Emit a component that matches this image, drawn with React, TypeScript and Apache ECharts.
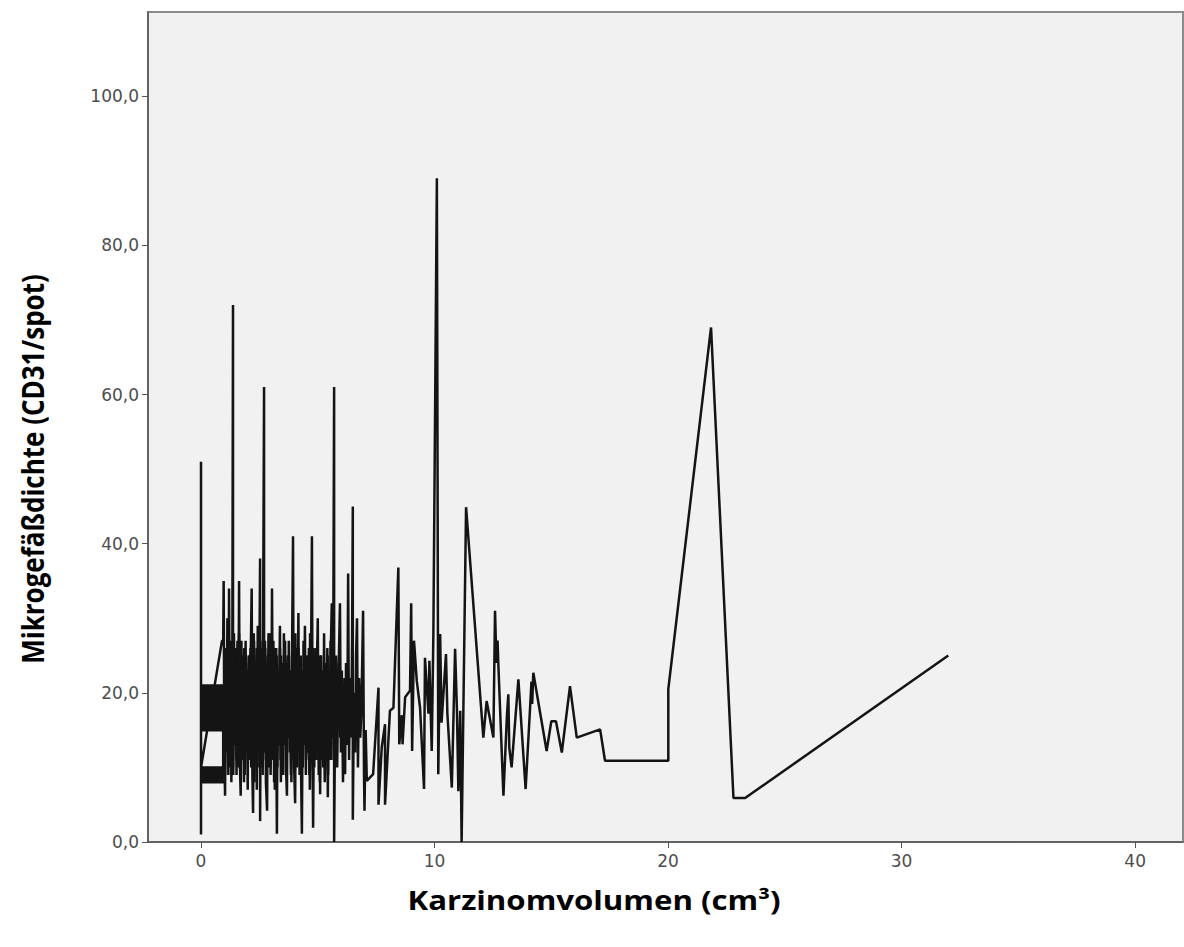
import React, { useEffect, useRef } from "react";
import * as echarts from "echarts";

// Tick values
const xTicks = [0, 10, 20, 30, 40];
const yTicks = [0, 20, 40, 60, 80, 100];

// Dense band of cases with volume near 0 (line drawn in case order)
const bandPoints: [number, number][] = [
  [0, 1], [0, 51],
  [0, 21], [0.95, 21], [0.95, 20.75], [0, 20.75], [0, 20.5], [0.95, 20.5], [0.95, 20.25], [0, 20.25],
  [0, 20], [0.95, 20], [0.95, 19.75], [0, 19.75], [0, 19.5], [0.95, 19.5], [0.95, 19.25], [0, 19.25],
  [0, 19], [0.95, 19], [0.95, 18.75], [0, 18.75], [0, 18.5], [0.95, 18.5], [0.95, 18.25], [0, 18.25],
  [0, 18], [0.95, 18], [0.95, 17.75], [0, 17.75], [0, 17.5], [0.95, 17.5], [0.95, 17.25], [0, 17.25],
  [0, 17], [0.95, 17], [0.95, 16.75], [0, 16.75], [0, 16.5], [0.95, 16.5], [0.95, 16.25], [0, 16.25],
  [0, 16], [0.95, 16], [0.95, 15.75], [0, 15.75], [0, 15.5], [0.95, 15.5], [0.95, 15.25], [0, 15.25],
  [0, 15], [0.95, 15],
  [0.95, 10], [0, 10], [0, 9.75], [0.95, 9.75], [0.95, 9.5], [0, 9.5], [0, 9.25], [0.95, 9.25],
  [0.95, 9], [0, 9], [0, 8.75], [0.95, 8.75], [0.95, 8.5], [0, 8.5], [0, 8.25], [0.95, 8.25],
  [0.95, 8], [0, 8], [0, 10], [0.9, 27],
];

// Dense cluster, volume 1-7 cm³ (first run of cases)
const clusterVolume = [
  0.95, 0.97, 1.0, 1.03, 1.06, 1.1, 1.13, 1.17, 1.2, 1.23, 1.27, 1.3, 1.34, 1.37, 1.37, 1.41, 1.45, 1.49,
  1.52, 1.56, 1.6, 1.63, 1.66, 1.7, 1.73, 1.77, 1.8, 1.84, 1.88, 1.92, 1.96, 2.0, 2.04, 2.08, 2.12, 2.17,
  2.2, 2.23, 2.27, 2.31, 2.35, 2.39, 2.43, 2.47, 2.5, 2.53, 2.53, 2.57, 2.61, 2.65, 2.7, 2.7, 2.74, 2.78,
  2.83, 2.86, 2.9, 2.94, 2.98, 3.02, 3.04, 3.08, 3.12, 3.16, 3.2, 3.25, 3.28, 3.32, 3.38, 3.42, 3.46, 3.5,
  3.55, 3.6, 3.64, 3.68, 3.72, 3.76, 3.8, 3.85, 3.9, 3.94, 3.97, 4.03, 4.07, 4.12, 4.17, 4.2, 4.25, 4.29,
  4.32, 4.36, 4.41, 4.45, 4.49, 4.53, 4.57, 4.62, 4.66, 4.7, 4.75, 4.78, 4.8, 4.85, 4.9, 4.95, 5.0, 5.04,
  5.08, 5.1, 5.14, 5.19, 5.24, 5.3, 5.35, 5.4, 5.43, 5.47, 5.52, 5.56, 5.6, 5.65, 5.7, 5.7, 5.74, 5.78,
  5.83, 5.88, 5.95, 5.99, 6.03, 6.08, 6.12, 6.17, 6.21, 6.26, 6.3, 6.34, 6.38, 6.43, 6.47, 6.5, 6.5, 6.55,
  6.6, 6.64, 6.68, 6.72, 6.77, 6.82, 6.87, 6.94, 6.98, 7.0, 7.05, 7.1,
];
const clusterDensity = [
  27, 35, 12, 6.2, 26, 14, 30, 9, 34, 16, 25, 8, 22, 72, 10, 28, 13, 24,
  9, 27, 15, 35, 11, 6.2, 27, 12, 22, 8, 26, 14, 20, 7, 25, 11, 23, 34,
  9, 3.9, 27, 13, 21, 7, 29, 12, 24, 38, 2.8, 26, 10, 22, 61, 12, 27, 8,
  4.2, 25, 14, 28, 9, 20, 34, 11, 26, 7, 23, 1.1, 21, 13, 29, 8, 24, 12,
  22, 27, 10, 6.2, 25, 14, 21, 9, 26, 41, 12, 5.2, 24, 10, 30.7, 13, 22, 8,
  1.1, 23, 15, 29, 9, 21, 12, 26, 7, 19, 41, 11, 1.9, 24, 14, 20, 30, 9,
  22, 6.4, 25, 13, 21, 8, 18, 24, 6, 20, 11, 26, 32, 14, 61, 0, 16, 25,
  10, 21, 32, 12, 23, 8, 19, 9.1, 24, 13, 36, 11, 22, 14, 27, 45, 3, 20,
  12, 25, 30, 10, 22, 14, 18, 31, 9, 4.2, 15, 8.2,
];

// Dense cluster, second run of cases overlapping the first (volume 5.6 → 1.0)
const clusterBackPoints: [number, number][] = [
  [5.62, 24], [5.58, 11], [5.55, 27], [5.51, 14], [5.48, 22], [5.44, 9], [5.41, 26], [5.37, 16],
  [5.34, 20], [5.3, 12], [5.27, 28], [5.23, 10], [5.2, 23], [5.16, 15], [5.13, 25], [5.09, 8],
  [5.06, 21], [5.02, 13], [4.99, 27], [4.95, 11], [4.92, 19], [4.88, 24], [4.85, 10], [4.81, 26],
  [4.78, 14], [4.74, 22], [4.71, 12], [4.67, 28], [4.64, 9], [4.6, 20], [4.57, 17], [4.53, 25],
  [4.5, 11], [4.46, 23], [4.43, 13], [4.39, 27], [4.36, 10], [4.32, 21], [4.29, 15], [4.25, 24],
  [4.22, 9], [4.18, 26], [4.15, 12], [4.11, 22], [4.08, 16], [4.04, 28], [4.01, 10], [3.97, 20],
  [3.94, 14], [3.9, 25], [3.87, 8], [3.83, 23], [3.8, 12], [3.76, 27], [3.73, 15], [3.69, 21],
  [3.66, 10], [3.62, 24], [3.59, 13], [3.55, 28], [3.52, 9], [3.48, 19], [3.45, 22], [3.41, 11],
  [3.38, 26], [3.34, 14], [3.31, 23], [3.27, 10], [3.24, 25], [3.2, 16], [3.17, 21], [3.13, 8],
  [3.1, 27], [3.06, 12], [3.03, 24], [2.99, 15], [2.96, 20], [2.92, 10], [2.89, 28], [2.85, 13],
  [2.82, 22], [2.78, 11], [2.75, 26], [2.71, 17], [2.68, 24], [2.64, 9], [2.61, 21], [2.57, 14],
  [2.54, 27], [2.5, 10], [2.47, 23], [2.43, 15], [2.4, 25], [2.36, 12], [2.33, 20], [2.29, 8],
  [2.26, 28], [2.22, 13], [2.19, 22], [2.15, 10], [2.12, 26], [2.08, 16], [2.05, 24], [2.01, 11],
  [1.98, 21], [1.94, 14], [1.91, 27], [1.87, 9], [1.84, 23], [1.8, 12], [1.77, 25], [1.73, 15],
  [1.7, 20], [1.66, 10], [1.63, 28], [1.59, 13], [1.56, 22], [1.52, 11], [1.49, 26], [1.45, 16],
  [1.42, 24], [1.38, 9], [1.35, 21], [1.31, 14], [1.28, 27], [1.24, 10], [1.21, 23], [1.17, 15],
  [1.14, 25], [1.1, 12], [1.07, 20], [1.03, 9], [1.0, 26],
];

// Dense cluster, third run of cases (volume 1.0 → 6.2)
const clusterThirdPoints: [number, number][] = [
  [1.01, 18], [1.05, 23], [1.08, 13], [1.12, 19], [1.15, 26], [1.19, 11], [1.22, 17], [1.26, 22],
  [1.29, 14], [1.33, 24], [1.36, 12], [1.4, 19], [1.43, 25], [1.47, 13], [1.5, 18], [1.54, 23],
  [1.57, 10], [1.61, 20], [1.64, 25], [1.68, 14], [1.71, 17], [1.75, 24], [1.78, 11], [1.82, 19],
  [1.85, 26], [1.89, 13], [1.92, 18], [1.96, 23], [1.99, 12], [2.03, 20], [2.06, 25], [2.1, 14],
  [2.13, 18], [2.17, 22], [2.2, 11], [2.24, 19], [2.27, 24], [2.31, 13], [2.34, 17], [2.38, 26],
  [2.41, 12], [2.45, 20], [2.48, 23], [2.52, 14], [2.55, 18], [2.59, 25], [2.62, 11], [2.66, 19],
  [2.69, 22], [2.73, 13], [2.76, 17], [2.8, 24], [2.83, 12], [2.87, 20], [2.9, 25], [2.94, 14],
  [2.97, 18], [3.01, 23], [3.04, 11], [3.08, 19], [3.11, 24], [3.15, 13], [3.18, 17], [3.22, 26],
  [3.25, 12], [3.29, 20], [3.32, 23], [3.36, 14], [3.39, 18], [3.43, 25], [3.46, 11], [3.5, 19],
  [3.53, 22], [3.57, 13], [3.6, 17], [3.64, 24], [3.67, 12], [3.71, 20], [3.74, 25], [3.78, 14],
  [3.81, 18], [3.85, 23], [3.88, 11], [3.92, 19], [3.95, 24], [3.99, 13], [4.02, 17], [4.06, 26],
  [4.09, 12], [4.13, 20], [4.16, 23], [4.2, 14], [4.23, 18], [4.27, 25], [4.3, 11], [4.34, 19],
  [4.37, 22], [4.41, 13], [4.44, 17], [4.48, 24], [4.51, 12], [4.55, 20], [4.58, 25], [4.62, 14],
  [4.65, 18], [4.69, 23], [4.72, 11], [4.76, 19], [4.79, 24], [4.83, 13], [4.86, 17], [4.9, 26],
  [4.93, 12], [4.97, 20], [5.0, 23], [5.04, 14], [5.07, 18], [5.11, 25], [5.14, 11], [5.18, 19],
  [5.21, 22], [5.25, 13], [5.28, 17], [5.32, 24], [5.35, 12], [5.39, 20], [5.42, 25], [5.46, 14],
  [5.49, 18], [5.53, 23], [5.56, 11], [5.6, 19], [5.66, 24], [5.72, 13], [5.78, 21], [5.84, 15],
  [5.9, 24], [5.96, 14], [6.02, 20], [6.08, 12], [6.14, 22],
];

// Sparse tail, volume > 7 cm³
const tailVolume = [
  7.37, 7.6, 7.6, 7.74, 7.88, 7.88, 8.09, 8.24, 8.45, 8.49, 8.6, 8.63, 8.74, 8.95, 9.0, 9.04, 9.12, 9.24,
  9.38, 9.55, 9.59, 9.74, 9.78, 9.88, 9.95, 10.1, 10.16, 10.24, 10.3, 10.49, 10.55, 10.74, 10.88, 10.96,
  11.02, 11.1, 11.16, 11.35, 12.09, 12.23, 12.52, 12.59, 12.65, 12.7, 12.73, 12.95, 13.1, 13.16, 13.2,
  13.3, 13.59, 13.9, 14.1, 14.15, 14.18, 14.23, 14.8, 15.0, 15.2, 15.45, 15.8, 16.09, 17.09, 17.3, 20.01,
  20.01, 21.84, 22.8, 23.3, 32.0,
];
const tailDensity = [
  9.1, 20.7, 5, 12.7, 15.8, 5, 17.6, 18, 36.8, 13.1, 17, 13.1, 19.4, 20.3, 32, 12.2, 27, 21.6,
  18, 7.1, 24.7, 17.2, 24.3, 12.2, 28, 89, 9.1, 27.9, 16, 25.2, 17.2, 7.3, 25.9, 17.6,
  6.8, 17.6, 0, 44.9, 14, 18.9, 14, 31, 24, 27, 24, 6.2, 17, 19.8, 12.7,
  10, 21.8, 7.1, 18.5, 21.5, 18.5, 22.7, 12.2, 16.2, 16.2, 12, 20.9, 14, 15.1, 10.9, 10.9,
  20.5, 69, 5.9, 5.9, 25,
];

const fmt = (v: number) => v.toFixed(1).replace(".", ",");

export default function App() {
  const ref = useRef<HTMLDivElement>(null);
  useEffect(() => {
    if (!ref.current) return;
    const chart = echarts.init(ref.current, null, { renderer: "svg" });
    const mainData: [number, number][] = [
      ...bandPoints,
      ...clusterVolume.map((v, i) => [v, clusterDensity[i]] as [number, number]),
      ...tailVolume.map((v, i) => [v, tailDensity[i]] as [number, number]),
    ];
    const labelFont = {
      color: "#4d4d4d",
      fontFamily: "DejaVu Sans, sans-serif",
      fontSize: 17,
    };
    const lineStyle = { color: "#141414", width: 2.5 };
    const lineSeries = (data: [number, number][]) => ({
      type: "line",
      data,
      showSymbol: false,
      symbol: "none",
      lineStyle,
      clip: true,
    });
    chart.setOption({
      animation: false,
      backgroundColor: "#ffffff",
      grid: {
        left: 148,
        right: 1,
        top: 12,
        bottom: 105,
        show: true,
        backgroundColor: "#f1f1f1",
        borderColor: "#8c8c8c",
        borderWidth: 2,
      },
      xAxis: {
        type: "value",
        min: -2.27,
        max: 42.05,
        splitLine: { show: false },
        axisLine: { show: true, onZero: false, lineStyle: { color: "#555", width: 1.5 } },
        axisTick: { show: true, length: 6, customValues: xTicks, lineStyle: { color: "#555" } },
        axisLabel: { ...labelFont, margin: 10, customValues: xTicks, formatter: (v: number) => String(v) },
      },
      yAxis: {
        type: "value",
        min: 0,
        max: 111.3,
        splitLine: { show: false },
        axisLine: { show: true, onZero: false, lineStyle: { color: "#555", width: 1.5 } },
        axisTick: { show: true, length: 6, customValues: yTicks, lineStyle: { color: "#555" } },
        axisLabel: { ...labelFont, margin: 9, customValues: yTicks, formatter: (v: number) => fmt(v) },
      },
      series: [lineSeries(clusterBackPoints), lineSeries(clusterThirdPoints), lineSeries(mainData)],
      graphic: [
        {
          type: "text",
          x: 594,
          y: 900,
          scaleX: 1.2,
          style: {
            text: "Karzinomvolumen (cm³)",
            fill: "#000",
            font: "bold 26px 'Open Sans', sans-serif",
            textAlign: "center",
            textVerticalAlign: "middle",
          },
        },
        {
          type: "text",
          x: 32,
          y: 469,
          rotation: Math.PI / 2,
          scaleY: 1.18,
          style: {
            text: "Mikrogefäßdichte (CD31/spot)",
            fill: "#000",
            font: "bold 26px 'Open Sans', sans-serif",
            textAlign: "center",
            textVerticalAlign: "middle",
          },
        },
      ],
    });
    return () => chart.dispose();
  }, []);
  return (
    <div
      ref={ref}
      style={{ position: "fixed", left: 0, top: 0, width: 1184, height: 947, background: "#fff" }}
    />
  );
}
